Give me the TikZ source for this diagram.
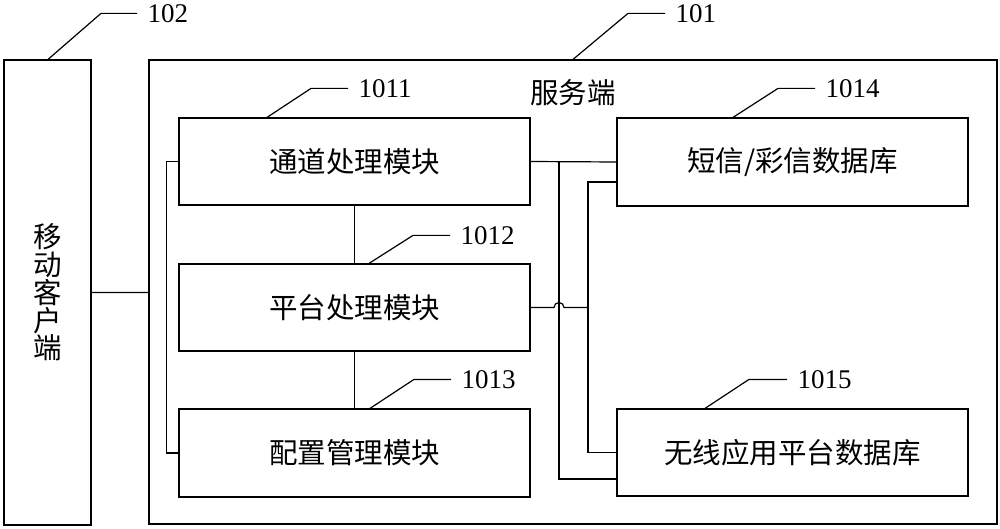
\documentclass[tikz,border=0pt]{standalone}
\usepackage{fontspec}
\setmainfont{Liberation Serif}
\newfontfamily\cjk{Noto Sans CJK SC}
\tikzset{
  box/.style={draw,line width=1.2pt,inner sep=0pt,font=\cjk\fontsize{28.5}{27.8}\selectfont},
  wire/.style={line width=1.2pt},
  tag/.style={anchor=west,inner sep=0pt,xshift=10pt,font=\fontsize{27}{30}\selectfont}
}
\begin{document}
\begin{tikzpicture}[x=1pt,y=-1pt]
\useasboundingbox (0,0) rectangle (1000,529);
% outer boxes
\node[box,minimum width=87pt,minimum height=465pt,align=center] (mobile) at (47.5,292.5) {移\\动\\客\\户\\端};
\node[box,minimum width=848pt,minimum height=464pt] (server) at (573,292) {};
\node[font=\cjk\fontsize{28.5}{30}\selectfont] (title) at (573,93) {服务端};
% modules
\node[box,minimum width=351pt,minimum height=87pt] (b1011) at (354.5,161.5) {通道处理模块};
\node[box,minimum width=351pt,minimum height=87pt] (b1012) at (354.5,307.5) {平台处理模块};
\node[box,minimum width=351pt,minimum height=88pt] (b1013) at (354.5,453) {配置管理模块};
\node[box,minimum width=351pt,minimum height=88pt] (b1014) at (792.5,162) {短信/彩信数据库};
\node[box,minimum width=351pt,minimum height=87pt] (b1015) at (792.5,452.5) {无线应用平台数据库};
% connections
\coordinate (j1) at (559,162);
\coordinate (j2) at (588,307.5);
\coordinate (hop) at (559,307.5);
\draw[wire] (mobile) -- (server);
\draw[wire] (b1011.west) -- ++(-12,0) |- (b1013.west);
\draw[wire] (b1011) -- (b1012);
\draw[wire] (b1012) -- (b1013);
\draw[wire] (b1011.east) -- (b1014.west);
\draw[wire] (j1) |- ([yshift=-26.5pt]b1015.west);
\draw[wire] ([yshift=-20pt]b1014.west) -| (j2) |- (b1015.west);
\draw[wire] (b1012.east) -- ([xshift=-5pt]hop) arc (180:360:5) -- (j2);
% leaders
\draw[wire] ([xshift=0.5pt]mobile.north) -- ++(53,-46) -- ++(36,0) node[tag] (t102) {102};
\draw[wire] (server.north) -- ++(55,-46) -- ++(37,0) node[tag] (t101) {101};
\draw[wire] ([xshift=-87.5pt]b1011.north) -- ++(44,-29) -- ++(37,0) node[tag] (t1011) {1011};
\draw[wire] ([xshift=14.5pt]b1012.north) -- ++(44,-28) -- ++(37,0) node[tag] (t1012) {1012};
\draw[wire] ([xshift=15.5pt]b1013.north) -- ++(44,-29) -- ++(37,0) node[tag] (t1013) {1013};
\draw[wire] ([xshift=-59.5pt]b1014.north) -- ++(45,-29) -- ++(37,0) node[tag] (t1014) {1014};
\draw[wire] ([xshift=-87.5pt]b1015.north) -- ++(44,-29) -- ++(38,0) node[tag] (t1015) {1015};
\end{tikzpicture}
\end{document}
